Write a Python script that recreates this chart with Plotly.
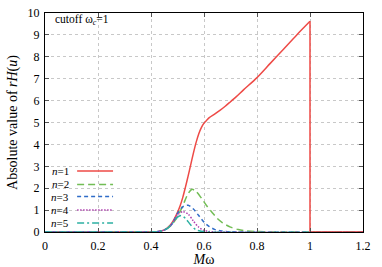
import plotly.graph_objects as go

# ---- data ----
x1 = [0.0, 0.40, 0.42, 0.44, 0.46, 0.47, 0.48, 0.49, 0.50, 0.51, 0.52, 0.53, 0.54,
      0.55, 0.56, 0.57, 0.58, 0.59, 0.60, 0.61, 0.62, 0.64, 0.66, 0.68, 0.70, 0.72,
      0.75, 0.80, 0.85, 0.90, 0.95, 1.0]
y1 = [0.0, 0.0, 0.01, 0.05, 0.17, 0.28, 0.44, 0.65, 0.90, 1.20, 1.58, 2.05, 2.55,
      3.08, 3.60, 4.08, 4.48, 4.77, 4.97, 5.10, 5.22, 5.38, 5.55, 5.74, 5.95, 6.16,
      6.50, 7.05, 7.70, 8.35, 9.00, 9.62]
# n=1 beyond the cutoff: drops to zero at Mω = 1
x1_cut = [1.0, 1.0, 1.2]
y1_cut = [9.62, 0.0, 0.0]

x2 = [0.0, 0.40, 0.42, 0.44, 0.46, 0.48, 0.50, 0.52, 0.54, 0.555, 0.57, 0.59, 0.61,
      0.63, 0.65, 0.67, 0.70, 0.73, 0.76, 0.80, 0.85, 0.90, 1.2]
y2 = [0.0, 0.0, 0.01, 0.05, 0.15, 0.35, 0.70, 1.20, 1.75, 1.95, 1.85, 1.55, 1.20,
      0.90, 0.62, 0.42, 0.22, 0.11, 0.05, 0.02, 0.005, 0.0, 0.0]

x3 = [0.0, 0.40, 0.42, 0.44, 0.46, 0.48, 0.50, 0.52, 0.54, 0.56, 0.58, 0.60, 0.62,
      0.64, 0.66, 0.70, 1.2]
y3 = [0.0, 0.0, 0.01, 0.05, 0.15, 0.38, 0.85, 1.15, 1.22, 1.05, 0.75, 0.45, 0.25,
      0.12, 0.06, 0.01, 0.0]

x4 = [0.0, 0.40, 0.42, 0.44, 0.46, 0.48, 0.50, 0.52, 0.54, 0.56, 0.58, 0.60, 0.62,
      0.65, 1.2]
y4 = [0.0, 0.0, 0.01, 0.05, 0.15, 0.38, 0.78, 0.93, 0.82, 0.50, 0.22, 0.08, 0.02,
      0.0, 0.0]

x5 = [0.0, 0.40, 0.42, 0.44, 0.46, 0.48, 0.50, 0.515, 0.53, 0.55, 0.57, 0.59, 0.61, 1.2]
y5 = [0.0, 0.0, 0.01, 0.05, 0.15, 0.38, 0.68, 0.75, 0.62, 0.32, 0.10, 0.03, 0.0, 0.0]

names = ["<i>n</i>=1", "<i>n</i>=2", "<i>n</i>=3", "<i>n</i>=4", "<i>n</i>=5"]
xtick_vals = [0, 0.2, 0.4, 0.6, 0.8, 1.0, 1.2]
xtick_text = ["0", "0.2", "0.4", "0.6", "0.8", "1", "1.2"]
ytick_vals = list(range(0, 11))

# ---- styles ----
colors = ["#ee4a46", "#72bd55", "#2f6cc8", "#b040b0", "#2cb0a2"]
dashes = ["solid", "7px,4px", "4px,3px", "1.5px,1.5px", "7px,3px,2px,3px"]
FONT = "Liberation Serif"

series = [(x1, y1), (x2, y2), (x3, y3), (x4, y4), (x5, y5)]

fig = go.Figure()
for (xs, ys), nm, c, d in zip(series, names, colors, dashes):
    fig.add_trace(go.Scatter(x=xs, y=ys, mode="lines", name=nm,
                             line=dict(color=c, width=1.5, dash=d, shape="spline",
                                       smoothing=0.8),
                             showlegend=False))
fig.add_trace(go.Scatter(x=x1_cut, y=y1_cut, mode="lines", name=names[0],
                         line=dict(color=colors[0], width=1.5), showlegend=False))

# manual legend (text left of sample line, like the reference)
leg_y = [0.278, 0.217, 0.162, 0.101, 0.041]
for nm, c, d, yy in zip(names, colors, dashes, leg_y):
    fig.add_shape(type="line", xref="paper", yref="paper",
                  x0=0.101, x1=0.214, y0=yy, y1=yy,
                  line=dict(color=c, width=1.5, dash=d))
    fig.add_annotation(x=0.083, y=yy, xref="paper", yref="paper", text=nm,
                       showarrow=False, xanchor="right", yanchor="middle",
                       font=dict(family=FONT, size=11, color="black"))

fig.add_annotation(x=0.026, y=0.967, xref="paper", yref="paper",
                   text="cutoff ω<sub><i>c</i></sub>=1", showarrow=False,
                   xanchor="left", yanchor="middle",
                   font=dict(family=FONT, size=11.5, color="black"))

axis_common = dict(showline=True, linecolor="black", linewidth=1, mirror="ticks",
                   ticks="inside", ticklen=4, tickcolor="#555555",
                   showgrid=True, gridcolor="#c8c8c8", griddash="dot", gridwidth=1,
                   zeroline=False, ticklabeloverflow="allow", automargin=False,
                   tickfont=dict(family=FONT, size=12, color="black"))

fig.update_xaxes(range=[0, 1.2], tickvals=xtick_vals, ticktext=xtick_text,
                 ticklabelstandoff=3,
                 title=dict(text="<i>M</i>ω", font=dict(family=FONT, size=14, color="black"),
                            standoff=3),
                 **axis_common)
fig.update_yaxes(range=[0, 10], tickvals=ytick_vals, ticklabelstandoff=2,
                 title=dict(text="Absolute value of <i>rH</i>(<i>u</i>)",
                            font=dict(family=FONT, size=14, color="black"), standoff=6),
                 **axis_common)

fig.update_layout(width=382, height=267,
                  margin=dict(l=45, r=19, t=13, b=35),
                  plot_bgcolor="white", paper_bgcolor="white",
                  hovermode=False,
                  font=dict(family=FONT))

# remove the page's default 8px body margin so the figure fills the window
fig.write_html("out.html",
               config={"displayModeBar": False, "staticPlot": True},
               post_script="document.body.style.margin='0';document.body.style.overflow='hidden';")
